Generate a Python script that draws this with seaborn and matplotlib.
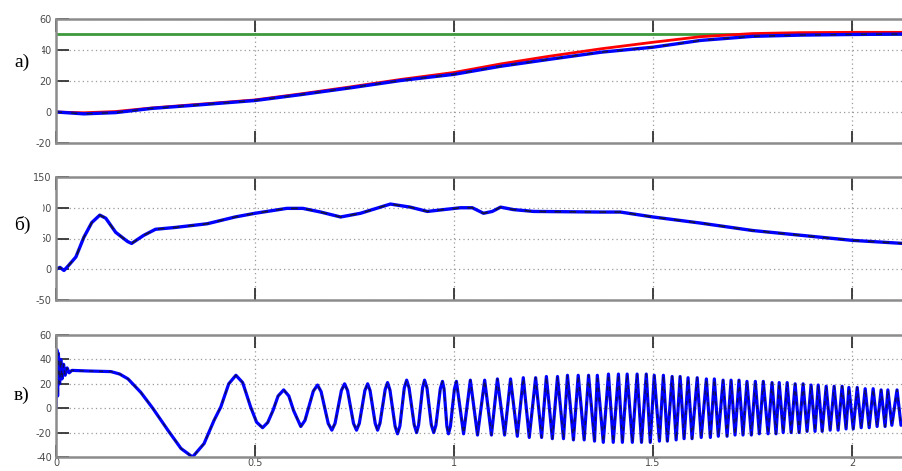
import numpy as np
import pandas as pd
import matplotlib
matplotlib.use("Agg")
import matplotlib.pyplot as plt
import matplotlib.patches as mpatches
import seaborn as sns

# ---------------- data ----------------
# panel а) position responses
pos_t = [0, 0.07, 0.15, 0.24, 0.35, 0.5, 0.615, 0.74, 0.866, 1.0, 1.117, 1.24,
         1.37, 1.5, 1.62, 1.75, 1.87, 2.0, 2.128]
pos_red = [0, -0.5, 0.3, 2.6, 4.8, 7.8, 11.7, 16.2, 21.0, 25.5, 31.0, 36.0,
           40.8, 45.0, 48.6, 50.6, 51.2, 51.4, 51.4]
pos_blue = [0, -1.2, -0.4, 2.3, 4.4, 7.4, 11.2, 15.6, 20.3, 24.3, 29.5, 34.0,
            38.6, 41.8, 46.2, 48.8, 49.6, 50.0, 50.3]
ref_t = [0, 2.128]
ref_y = [50, 50]

# panel б) speed
spd_t = [0, 0.01, 0.02, 0.03, 0.05, 0.07, 0.09, 0.11, 0.125, 0.15, 0.18, 0.19,
         0.22, 0.25, 0.30, 0.38, 0.45, 0.50, 0.58, 0.62, 0.665, 0.715, 0.765,
         0.84, 0.89, 0.933, 0.974, 1.016, 1.046, 1.074, 1.096, 1.117, 1.149,
         1.20, 1.368, 1.418, 1.5, 1.62, 1.75, 2.0, 2.128]
spd_y = [0, 3, -2, 5, 20, 52, 76, 88, 83, 60, 45, 42,
         55, 65, 68, 74, 85, 91, 99, 99, 93, 85, 91,
         106, 101, 94, 97, 100, 100, 91, 94, 101, 97,
         94, 93, 93, 85, 75, 63, 47, 42]

# panel в) oscillating signal
osc_t = [0.000, 0.002, 0.004, 0.006, 0.009, 0.012, 0.015, 0.019, 0.023, 0.028,
         0.033, 0.040, 0.080, 0.138, 0.160, 0.181, 0.213, 0.243, 0.281, 0.314,
         0.343, 0.372, 0.397, 0.414, 0.434, 0.452, 0.469, 0.489, 0.504, 0.519,
         0.532, 0.545, 0.558, 0.572, 0.585, 0.597, 0.615,
         0.6255, 0.6465, 0.657, 0.666, 0.684, 0.693, 0.701, 0.717, 0.725,
         0.7325, 0.7475, 0.755, 0.762, 0.776, 0.783, 0.789, 0.802, 0.808,
         0.814, 0.827, 0.833, 0.839, 0.852, 0.858, 0.864, 0.875, 0.881,
         0.887, 0.900, 0.906, 0.911, 0.921, 0.926, 0.932, 0.943, 0.949,
         0.9545, 0.9655, 0.971, 0.975, 0.982, 0.986, 0.991, 1.001, 1.006,
         1.024, 1.041,
         1.059, 1.077, 1.094, 1.109, 1.127, 1.142, 1.159, 1.174, 1.189, 1.205,
         1.220, 1.232, 1.247, 1.260, 1.275, 1.285, 1.300, 1.312, 1.327, 1.338,
         1.353, 1.360, 1.375, 1.388, 1.400, 1.413, 1.423, 1.435, 1.448, 1.460,
         1.471, 1.483, 1.493, 1.503, 1.516, 1.526, 1.536, 1.548, 1.558, 1.568,
         1.578, 1.588, 1.598, 1.611, 1.621, 1.634, 1.644, 1.654, 1.664, 1.676,
         1.686, 1.696, 1.706, 1.716, 1.726, 1.736, 1.747, 1.757, 1.767, 1.777,
         1.789, 1.799, 1.809, 1.817, 1.827, 1.837, 1.847, 1.857, 1.867, 1.877,
         1.887, 1.897, 1.907, 1.915, 1.925, 1.935, 1.945, 1.955, 1.965, 1.975,
         1.985, 1.992, 2.003, 2.013, 2.023, 2.033, 2.043, 2.053, 2.063, 2.073,
         2.083, 2.090, 2.100, 2.113, 2.123]
osc_y = [0, 48, 10, 45, 20, 40, 24, 36, 27, 33,
         29, 31, 30.5, 30, 28, 24, 13, 0, -18, -33,
         -40, -29, -10, 1, 20, 27, 21, 1, -11.5, -16,
         -11.7, -2, 10, 15, 10, -2, -15,
         -10.0, 14.0, 19, 13.6, -12.6, -18, -12.5, 14.5, 20,
         14.5, -12.5, -18, -12.5, 14.5, 20, 14.5, -12.5, -18,
         -12.3, 15.3, 21, 14.9, -14.9, -21, -14.6, 16.6, 23,
         16.7, -13.7, -20, -13.7, 16.7, 23, 16.7, -13.7, -20,
         -13.9, 15.9, 22, 15.7, -14.7, -21, -14.7, 15.7, 22,
         -21, 23,
         -22, 23, -22, 24, -22, 24, -23, 25, -24, 25,
         -24, 26, -25, 26, -25, 27, -26, 27, -26, 27,
         -27, 27, -28, 28, -28, 28, -28, 28, -28, 28,
         -28, 28, -28, 27, -27, 27, -27, 26, -26, 26,
         -25, 25, -25, 25, -24, 24, -24, 24, -23, 23,
         -23, 23, -22, 23, -22, 22, -22, 22, -21, 22,
         -21, 21, -21, 21, -20, 21, -20, 20, -20, 20,
         -19, 19, -19, 19, -19, 18, -18, 18, -18, 18,
         -17, 17, -17, 17, -16, 16, -16, 16, -15, 15,
         -15, 15, -14, 15, -14]

x_ticks = [0, 0.5, 1, 1.5, 2]
x_tick_labels = ["0", "0.5", "1", "1.5", "2"]
yticks_a = [-20, 0, 20, 40, 60]
yticks_b = [-50, 0, 50, 100, 150]
yticks_c = [-40, -20, 0, 20, 40, 60]
panel_labels = ["а)", "б)", "в)"]

# ---------------- figure ----------------
sns.set_style("white")
plt.rcParams["font.family"] = ["DejaVu Sans"]

W, H = 903, 471
fig = plt.figure(figsize=(W / 100, H / 100), dpi=100)

def frac_axes(top_px, bottom_px, left_px=56, right_px=903):
    return fig.add_axes([left_px / W, 1 - bottom_px / H,
                         (right_px - left_px) / W, (bottom_px - top_px) / H])

ax1 = frac_axes(19, 143)
ax2 = frac_axes(177, 300)
ax3 = frac_axes(335, 457)

XMAX = 2.128

# panel а
sns.lineplot(x=ref_t, y=ref_y, ax=ax1, color="#3c9a3c", linewidth=2.0, estimator=None)
sns.lineplot(x=pos_t, y=pos_red, ax=ax1, color="#ff0000", linewidth=2.0, estimator=None)
sns.lineplot(x=pos_t, y=pos_blue, ax=ax1, color="#0000ff", linewidth=2.4, estimator=None)
sns.lineplot(x=pos_t, y=pos_blue, ax=ax1, color="#15154a", linewidth=1.1,
             estimator=None, linestyle=(0, (4, 6)))

# panel б
sns.lineplot(x=spd_t, y=spd_y, ax=ax2, color="#0000ff", linewidth=2.4, estimator=None)
sns.lineplot(x=spd_t, y=spd_y, ax=ax2, color="#15153a", linewidth=1.2,
             estimator=None, linestyle=(0, (4, 5)))

# panel в
sns.lineplot(x=osc_t, y=osc_y, ax=ax3, color="#0000ff", linewidth=2.3, estimator=None)
sns.lineplot(x=osc_t, y=osc_y, ax=ax3, color="#10105a", linewidth=1.0,
             estimator=None, linestyle=(0, (3, 4)))

for ax, yt, last in [(ax1, yticks_a, False), (ax2, yticks_b, False), (ax3, yticks_c, True)]:
    ax.set_xlim(0, XMAX)
    ax.set_ylim(yt[0], yt[-1])
    ax.set_yticks(yt)
    ax.set_yticklabels([str(v) for v in yt])
    ax.set_xticks(x_ticks)
    if last:
        ax.set_xticklabels(x_tick_labels)
    else:
        ax.set_xticklabels([])
    ax.set_xlabel("")
    ax.set_ylabel("")
    ax.grid(True, color="#9a9a9a", linestyle=(0, (1, 2.5)), linewidth=0.9)
    for s in ["top", "bottom", "left"]:
        ax.spines[s].set_color("#8c8c8c")
        ax.spines[s].set_linewidth(1.8)
        ax.spines[s].set_visible(True)
    ax.spines["right"].set_visible(False)
    ax.tick_params(axis="both", direction="in", length=9, width=1.3,
                   color="#333333", labelsize=7, labelcolor="#4a4a4a",
                   top=True, bottom=True, left=True, right=False, pad=3)
    ax.tick_params(axis="x", pad=1)
    ax.set_facecolor("white")

# white patches that hide parts of the tick labels behind the panel letters
for (x0, y0, x1, y1) in [(0, 42, 42, 74), (0, 198, 43, 244)]:
    fig.patches.append(mpatches.Rectangle((x0 / W, 1 - y1 / H), (x1 - x0) / W,
                                          (y1 - y0) / H, transform=fig.transFigure,
                                          facecolor="white", edgecolor="none",
                                          zorder=5))

label_pos = [(22, 62), (22, 225), (22, 395)]
for (px, py), lab in zip(label_pos, panel_labels):
    fig.text(px / W, 1 - py / H, lab, ha="center", va="center",
             fontsize=14, family=["Liberation Serif", "DejaVu Serif"],
             color="black", zorder=6)

fig.savefig("out.png", dpi=100, facecolor="white")
